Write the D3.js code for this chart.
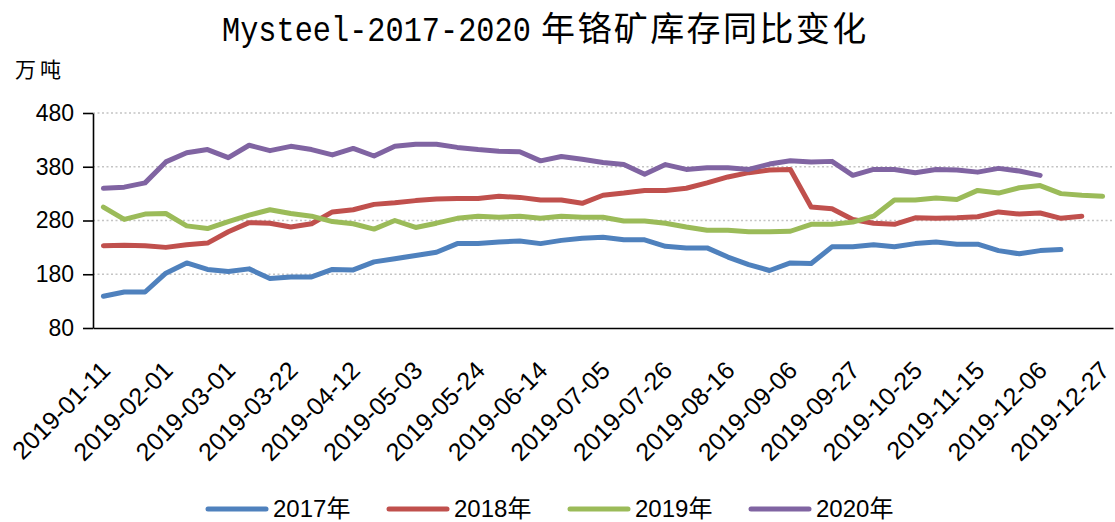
<!DOCTYPE html>
<head>
<meta charset="utf-8">
<title>Mysteel-2017-2020年铬矿库存同比变化</title>
<script src="https://d3js.org/d3.v7.min.js"></script>
<style>
body {
  margin: 0;
  background: #fff;
  font-family: "Liberation Sans", Arial, sans-serif;
}

svg {
  display: block;
}

.grid line {
  stroke: #c4c4c4;
  stroke-width: 1.3px;
  stroke-dasharray: 2, 2.5;
}

.axis path, .axis line {
  stroke: #000;
  stroke-width: 1.6px;
}

.axis text {
  fill: #000;
  font-family: "Liberation Sans", Arial, sans-serif;
}

path.line {
  fill: none;
  stroke-width: 5px;
  stroke-linejoin: round;
  stroke-linecap: round;
}
</style>
</head>
<body>
<script>

// weekly dates (holiday weeks 02-08 and 10-04 are missing in the source)
const dates = [
  "2019-01-11", "2019-01-18", "2019-01-25", "2019-02-01", "2019-02-15", "2019-02-22",
  "2019-03-01", "2019-03-08", "2019-03-15", "2019-03-22", "2019-03-29", "2019-04-05",
  "2019-04-12", "2019-04-19", "2019-04-26", "2019-05-03", "2019-05-10", "2019-05-17",
  "2019-05-24", "2019-05-31", "2019-06-07", "2019-06-14", "2019-06-21", "2019-06-28",
  "2019-07-05", "2019-07-12", "2019-07-19", "2019-07-26", "2019-08-02", "2019-08-09",
  "2019-08-16", "2019-08-23", "2019-08-30", "2019-09-06", "2019-09-13", "2019-09-20",
  "2019-09-27", "2019-10-11", "2019-10-18", "2019-10-25", "2019-11-01", "2019-11-08",
  "2019-11-15", "2019-11-22", "2019-11-29", "2019-12-06", "2019-12-13", "2019-12-20",
  "2019-12-27"
];

const y2017 = [139, 147, 147, 182, 201, 189, 185, 190, 172, 175, 175, 189, 188, 203, 209, 215,
  221, 237, 237, 240, 242, 237, 243, 247, 249, 244, 244, 232, 229, 229, 212, 198,
  187, 201, 200, 231, 231, 235, 231, 237, 240, 236, 236, 224, 218, 224, 226];

const y2018 = [233, 234, 233, 230, 235, 238, 259, 276, 275, 268, 274, 296, 300, 310, 313, 317,
  320, 321, 321, 325, 323, 318, 318, 312, 327, 331, 336, 336, 340, 350, 361, 369,
  374, 375, 305, 302, 282, 275, 273, 285, 284, 285, 287, 296, 292, 294, 284, 288];

const y2019 = [305, 282, 292, 293, 270, 265, 278, 290, 300, 293, 288, 278, 274, 264, 280, 267,
  275, 284, 288, 286, 288, 284, 288, 286, 286, 279, 279, 275, 268, 262, 262, 259,
  259, 260, 273, 273, 277, 288, 318, 318, 322, 319, 336, 331, 341, 345, 330, 327, 325];

const y2020 = [340, 342, 350, 389, 406, 412, 397, 420, 410, 418, 412, 402, 414, 400, 418, 422,
  422, 416, 412, 409, 408, 391, 399, 394, 388, 384, 366, 384, 375, 378, 378, 375,
  385, 391, 389, 390, 364, 375, 375, 369, 375, 374, 370, 377, 372, 364];

const seriesNames = ["2017年", "2018年", "2019年", "2020年"];
const yTicks = [80, 180, 280, 380, 480];

const width = 1115,
  height = 522;

const margin = {top: 113, right: 2, bottom: 194, left: 93};

const color = d3.scaleOrdinal()
  .domain(seriesNames)
  .range(["#4F81BD", "#C0504D", "#9BBB59", "#8064A2"]);

const series = [y2017, y2018, y2019, y2020].map((vals, k) => ({
  name: seriesNames[k],
  values: vals.map((v, i) => ({date: dates[i], value: v}))
}));

const svg = d3.select('body').append('svg')
  .attr('width', width)
  .attr('height', height);

const x = d3.scalePoint()
  .domain(dates)
  .range([margin.left, width - margin.right])
  .padding(0.5);

const y = d3.scaleLinear()
  .domain([80, 480])
  .range([height - margin.bottom, margin.top]);

// title: latin part squeezed to look like SimHei half-width glyphs
svg.append('text')
  .attr('transform', 'translate(222,41) scale(0.865,1)')
  .style('font-family', '"Liberation Mono", monospace')
  .style('font-size', '35px')
  .text('Mysteel-2017-2020');

svg.append('text')
  .attr('x', 541)
  .attr('y', 41)
  .style('font-family', '"Noto Sans CJK SC", sans-serif')
  .style('font-size', '34px')
  .style('letter-spacing', '2.4px')
  .text('年铬矿库存同比变化');

// unit
svg.append('text')
  .attr('x', 15)
  .attr('y', 77)
  .style('font-family', '"Noto Sans CJK SC", sans-serif')
  .style('font-size', '21px')
  .style('letter-spacing', '4px')
  .text('万吨');

// horizontal dotted grid
svg.append('g')
  .attr('class', 'grid')
  .selectAll('line')
  .data(yTicks.slice(1))
  .enter().append('line')
    .attr('x1', margin.left)
    .attr('x2', width - margin.right)
    .attr('y1', d => y(d))
    .attr('y2', d => y(d));

const yAxis = svg.append('g')
  .attr('class', 'axis')
  .attr('transform', 'translate(' + margin.left + ',0)')
  .call(d3.axisLeft(y).tickValues(yTicks).tickSize(10).tickSizeOuter(0).tickPadding(9));

yAxis.selectAll('text')
  .style('font-size', '23px');

const xAxis = svg.append('g')
  .attr('class', 'axis')
  .attr('transform', 'translate(0,' + y(80) + ')')
  .call(d3.axisBottom(x)
    .tickValues(dates.filter((d, i) => i % 3 === 0))
    .tickSize(0)
    .tickSizeOuter(0));

xAxis.selectAll('text')
  .style('font-size', '25px')
  .style('text-anchor', 'end')
  .attr('y', 0)
  .attr('dy', 0)
  .attr('transform', 'translate(8,44) rotate(-45)');

// data lines
const line = d3.line()
  .x(d => x(d.date))
  .y(d => y(d.value));

svg.append('g')
  .selectAll('path')
  .data(series)
  .enter().append('path')
    .attr('class', 'line')
    .style('stroke', d => color(d.name))
    .attr('d', d => line(d.values));

// legend
const legend = svg.append('g')
  .selectAll('g')
  .data(seriesNames)
  .enter().append('g')
    .attr('transform', (d, i) => 'translate(' + (208 + i * 181) + ',509)');

legend.append('line')
  .attr('x1', 0)
  .attr('x2', 58)
  .style('stroke', d => color(d))
  .style('stroke-width', 5)
  .style('stroke-linecap', 'round');

legend.append('text')
  .attr('x', 65)
  .attr('dy', '0.35em')
  .style('font-family', '"Liberation Sans", "Noto Sans CJK SC", sans-serif')
  .style('font-size', '24px')
  .text(d => d);

</script>
</body>
